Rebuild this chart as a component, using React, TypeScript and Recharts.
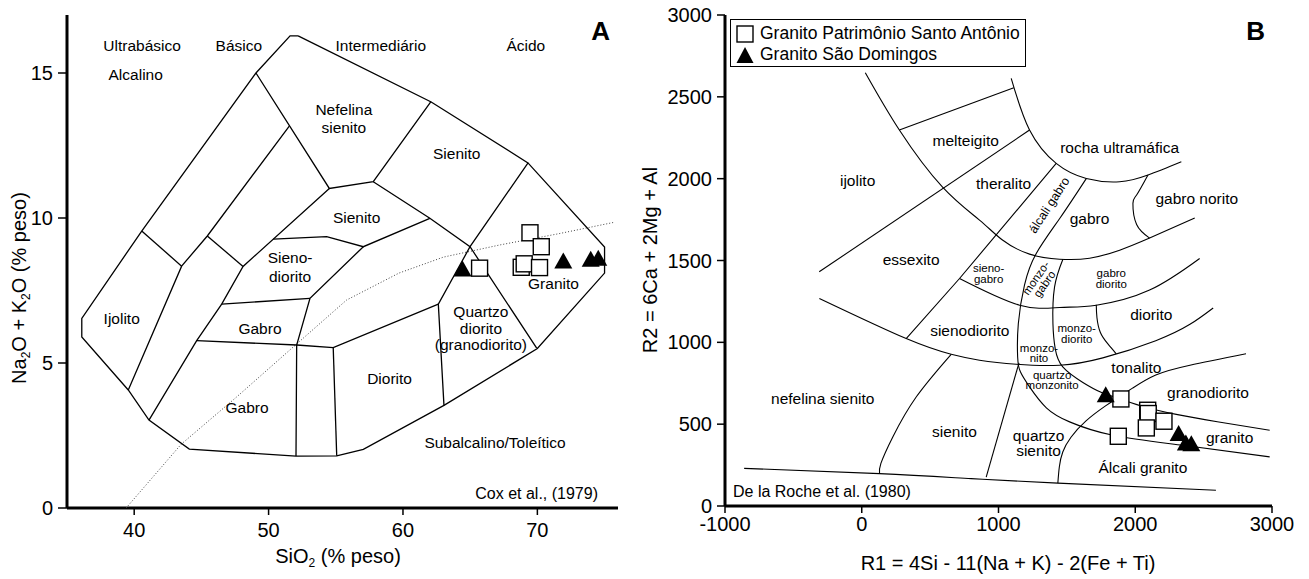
import React from 'react';
import { ScatterChart, Scatter, XAxis, YAxis, Legend } from 'recharts';

type XY = [number, number];
type FieldLabel = { text: string; x: number; y: number };

const FONT = '"Liberation Sans", Arial, Helvetica, sans-serif';

// ---------- Painel A: TAS plutônico (Cox et al., 1979) ----------
const tasXTicks = [40, 50, 60, 70];
const tasYTicks = [0, 5, 10, 15];

const tasOutline: XY[] = [
  [52.2, 16.28], [62.1, 14.0], [69.3, 11.9], [75.0, 9.0], [75.0, 8.1], [70.0, 5.5],
  [63.05, 3.54], [57.05, 2.02], [55.07, 1.8], [52.04, 1.79], [44.1, 2.03], [41.1, 3.03],
  [39.56, 4.07], [36.1, 5.9], [36.1, 6.54], [40.56, 9.55], [49.06, 15.0], [51.6, 16.28], [52.2, 16.28],
];
const tasNefelinaBase: XY[] = [[49.06, 15.0], [54.52, 11.02], [57.79, 11.25], [62.08, 14.01]];
const tasIjolitoEast: XY[] = [[51.54, 13.17], [45.44, 9.38], [43.53, 8.34], [39.56, 4.07]];
const tasIjolitoTop: XY[] = [[40.56, 9.55], [43.53, 8.34]];
const tasMidLink: XY[] = [[45.44, 9.38], [48.1, 8.33]];
const tasGabroWest: XY[] = [[54.52, 11.02], [48.1, 8.33], [46.51, 7.03], [44.65, 5.77], [41.1, 3.03]];
const tasSienitoBase: XY[] = [[50.35, 9.27], [54.32, 9.36], [57.05, 9.01], [62.0, 9.99]];
const tasSienitoEast: XY[] = [[57.79, 11.25], [62.0, 9.99], [64.99, 9.01], [69.95, 5.51]];
const tasQuartzoWest: XY[] = [[69.32, 11.91], [64.99, 9.01], [62.63, 7.03], [63.05, 3.54]];
const tasSienoEast: XY[] = [[57.05, 9.01], [53.08, 7.23], [52.09, 5.62], [52.04, 1.79]];
const tasSienoBase: XY[] = [[46.51, 7.03], [53.08, 7.23]];
const tasGabroTop: XY[] = [[44.65, 5.77], [52.09, 5.62], [54.81, 5.53], [62.63, 7.03]];
const tasDioritoWest: XY[] = [[54.81, 5.53], [55.07, 1.8]];
const tasAlkalineDivide: XY[] = [
  [39.4, 0], [43.5, 2.2], [47.7, 3.86], [52.0, 5.62], [55.8, 7.17], [59.7, 8.1],
  [63.0, 8.65], [67.2, 9.07], [71.5, 9.45], [75.7, 9.85],
];

const tasPatrimonio: XY[] = [[69.45, 9.49], [70.29, 9.01], [68.8, 8.3], [69.02, 8.42], [70.16, 8.29], [65.7, 8.27]];
const tasSaoDomingos: XY[] = [[64.43, 8.24], [71.93, 8.52], [73.97, 8.58], [74.53, 8.61]];

const tasLabels: FieldLabel[] = [
  { text: 'Ultrabásico', x: 40.59, y: 15.97 },
  { text: 'Básico', x: 47.79, y: 15.97 },
  { text: 'Intermediário', x: 58.35, y: 15.97 },
  { text: 'Ácido', x: 69.14, y: 15.97 },
  { text: 'Alcalino', x: 40.11, y: 14.97 },
  { text: 'Nefelina\nsienito', x: 55.6, y: 13.45 },
  { text: 'Sienito', x: 64.0, y: 12.23 },
  { text: 'Sienito', x: 56.55, y: 10.05 },
  { text: 'Sieno-\ndiorito', x: 51.6, y: 8.33 },
  { text: 'Gabro', x: 49.36, y: 6.2 },
  { text: 'Gabro', x: 48.4, y: 3.49 },
  { text: 'Ijolito', x: 39.07, y: 6.54 },
  { text: 'Granito', x: 71.2, y: 7.77 },
  { text: 'Diorito', x: 59.0, y: 4.47 },
  { text: 'Subalcalino/Toleítico', x: 66.85, y: 2.29 },
];
const tasQuartzoLabel: FieldLabel[] = [{ text: 'Quartzo\ndiorito\n(granodiorito)', x: 65.8, y: 6.22 }];

// ---------- Painel B: R1-R2 (De la Roche et al., 1980) ----------
const rocheXTicks = [-1000, 0, 1000, 2000, 3000];
const rocheYTicks = [0, 500, 1000, 1500, 2000, 2500, 3000];

const rocheUltramafic: XY[] = [
  [26, 2647], [275, 2297], [591, 1948], [861, 1747], [1029, 1625], [1227, 1539],
  [1447, 1508], [1666, 1514], [1886, 1563], [2105, 1637], [2435, 1759],
];
const rocheMelteigitoTop: XY[] = [[275, 2297], [1112, 2555]];
const rocheUltramaficEast: XY[] = [
  [1093, 2613], [1227, 2297], [1422, 2093], [1642, 2001], [1886, 1981], [2093, 2022], [2337, 2103],
];
const rocheTheralitoTop: XY[] = [[-311, 1431], [1227, 2297]];
const rocheEssexitoEast: XY[] = [[1422, 2093], [715, 1390], [325, 1023]];
const rocheGabroDioritoTop: XY[] = [[715, 1390], [1154, 1227], [1447, 1213], [1715, 1227], [2105, 1319], [2471, 1512]];
const rocheSienodioritoBase: XY[] = [
  [-310, 1268], [325, 1023], [654, 927], [861, 891], [1130, 866], [1447, 860],
  [1763, 905], [2150, 1010], [2400, 1110], [2570, 1210],
];
const rocheMonzoWest: XY[] = [
  [1642, 2001], [1450, 1760], [1276, 1543], [1190, 1350], [1145, 1115], [1140, 911],
  [1160, 820], [1227, 728], [1350, 600], [1520, 514], [1837, 432], [2349, 371], [2983, 300],
];
const rocheSienitoEast: XY[] = [[1150, 875], [910, 177]];
const rocheMonzoEast: XY[] = [
  [1471, 1508], [1410, 1339], [1398, 1115], [1415, 960], [1470, 850], [1617, 755], [1750, 695], [1871, 660],
];
const rocheAlcaliGranitoWest: XY[] = [[1871, 660], [1780, 610], [1640, 520], [1530, 420], [1470, 330], [1445, 240], [1434, 140]];
const rocheGranitoTop: XY[] = [[1871, 660], [2050, 610], [2300, 560], [2600, 515], [2983, 463]];
const rocheTonalitoBase: XY[] = [[1890, 672], [1980, 720], [2150, 800], [2400, 860], [2810, 930]];
const rocheDioritoWest: XY[] = [[1715, 1230], [1720, 1150], [1745, 1060], [1800, 990], [1861, 930]];
const rocheNoritoWest: XY[] = [[2093, 2022], [2010, 1900], [1983, 1849], [2010, 1720], [2105, 1637]];
const rocheBase: XY[] = [[-860, 230], [130, 198], [800, 167], [1434, 140], [2590, 96]];
const rocheNefelinaEast: XY[] = [[130, 198], [140, 260], [227, 422], [398, 666], [654, 927]];

const rochePatrimonio: XY[] = [[1895, 654], [2091, 585], [2095, 565], [2210, 518], [2081, 477], [1876, 426]];
const rocheSaoDomingos: XY[] = [[1784, 680], [2317, 443], [2370, 385], [2410, 381]];

const rocheLabels: FieldLabel[] = [
  { text: 'ijolito', x: -30, y: 1990 },
  { text: 'melteigito', x: 760, y: 2236 },
  { text: 'theralito', x: 1037, y: 1971 },
  { text: 'rocha ultramáfica', x: 1886, y: 2195 },
  { text: 'gabro norito', x: 2450, y: 1879 },
  { text: 'gabro', x: 1666, y: 1757 },
  { text: 'essexito', x: 361, y: 1512 },
  { text: 'sienodiorito', x: 790, y: 1074 },
  { text: 'diorito', x: 2117, y: 1176 },
  { text: 'tonalito', x: 2008, y: 850 },
  { text: 'granodiorito', x: 2532, y: 697 },
  { text: 'granito', x: 2690, y: 422 },
  { text: 'Álcali granito', x: 2056, y: 238 },
  { text: 'sienito', x: 678, y: 460 },
  { text: 'nefelina sienito', x: -285, y: 657 },
];
const rocheQuartzoSienito: FieldLabel[] = [{ text: 'quartzo\nsienito', x: 1293, y: 387 }];
const rocheSmallLabels: FieldLabel[] = [
  { text: 'sieno-\ngabro', x: 928, y: 1420 },
  { text: 'gabro\ndiorito', x: 1825, y: 1390 },
  { text: 'monzo-\ndiorito', x: 1572, y: 1054 },
  { text: 'monzo-\nnito', x: 1296, y: 934 },
  { text: 'quartzo\nmonzonito', x: 1392, y: 770 },
];
const rocheAlcaliGabro: FieldLabel[] = [{ text: 'álcali gabro', x: 1372, y: 1838 }];
const rocheMonzoGabro: FieldLabel[] = [{ text: 'monzo-\ngabro', x: 1305, y: 1375 }];

const seriesPatrimonio = 'Granito Patrimônio Santo Antônio';
const seriesSaoDomingos = 'Granito São Domingos';

const toPts = (arr: XY[]) => arr.map(([x, y]) => ({ x, y }));

const noPoint = () => <g />;

const squareShape = (props: any) => (
  <rect x={props.cx - 8} y={props.cy - 8} width={16} height={16} fill="#fff" stroke="#000" strokeWidth={1.4} />
);

const triangleShape = (props: any) => {
  const { cx, cy } = props;
  return <path d={`M${cx},${cy - 8.5}L${cx + 9},${cy + 7.5}L${cx - 9},${cy + 7.5}Z`} fill="#000" />;
};

const textShape = (size: number, lead: number, angle = 0) => (props: any) => {
  const { cx, cy, payload } = props;
  const lines = String(payload.text).split('\n');
  const top = cy - ((lines.length - 1) * lead) / 2;
  return (
    <text
      transform={angle ? `rotate(${angle} ${cx} ${cy})` : undefined}
      fontFamily={FONT}
      fontSize={size}
      fill="#000"
      textAnchor="middle"
      dominantBaseline="central"
    >
      {lines.map((l, i) => (
        <tspan key={i} x={cx} y={top + i * lead}>
          {l}
        </tspan>
      ))}
    </text>
  );
};

function boundary(seg: XY[], key: string, curve: 'linear' | 'natural', width = 1.2, dash?: string) {
  return (
    <Scatter
      key={key}
      data={toPts(seg)}
      line={{ stroke: dash ? '#444' : '#000', strokeWidth: width, strokeDasharray: dash }}
      lineJointType={curve}
      shape={noPoint}
      legendType="none"
      isAnimationActive={false}
    />
  );
}

const tickStyle = { fill: '#000', fontSize: 20, fontFamily: FONT };
const axisLine = { stroke: '#000', strokeWidth: 3 };
const tickLine = { stroke: '#000', strokeWidth: 1.5 };

const renderLegend = () => (
  <div
    style={{
      border: '1.5px solid #000',
      background: '#fff',
      boxSizing: 'border-box',
      width: 296,
      height: 48,
      padding: '3px 0 0 5px',
      fontFamily: FONT,
      fontSize: 17.5,
      lineHeight: '21px',
      color: '#000',
      textAlign: 'left',
      whiteSpace: 'nowrap',
    }}
  >
    <div style={{ display: 'flex', alignItems: 'center', height: 21 }}>
      <svg width={18} height={18}>
        <rect x={1} y={1} width={16} height={16} fill="#fff" stroke="#000" strokeWidth={1.4} />
      </svg>
      <span style={{ marginLeft: 6 }}>{seriesPatrimonio}</span>
    </div>
    <div style={{ display: 'flex', alignItems: 'center', height: 21 }}>
      <svg width={18} height={18}>
        <path d="M9,1L17.5,17L0.5,17Z" fill="#000" />
      </svg>
      <span style={{ marginLeft: 6 }}>{seriesSaoDomingos}</span>
    </div>
  </div>
);

function TasPanel() {
  const lines = [
    tasOutline, tasNefelinaBase, tasIjolitoEast, tasIjolitoTop, tasMidLink, tasGabroWest,
    tasSienitoBase, tasSienitoEast, tasQuartzoWest, tasSienoEast, tasSienoBase, tasGabroTop, tasDioritoWest,
  ];
  return (
    <ScatterChart width={640} height={579} margin={{ top: 15, right: 22, bottom: 41, left: 17 }}>
      <XAxis type="number" dataKey="x" domain={[35, 76]} ticks={tasXTicks} height={30} tick={tickStyle}
        tickSize={7} tickMargin={8} axisLine={axisLine} tickLine={tickLine} />
      <YAxis type="number" dataKey="y" domain={[0, 17]} ticks={tasYTicks} width={50} tick={tickStyle}
        tickSize={9} tickMargin={5} axisLine={axisLine} tickLine={tickLine} />
      <XAxis xAxisId="top" orientation="top" type="number" domain={[35, 76]} height={0} tick={false}
        tickLine={false} axisLine={axisLine} />
      <YAxis yAxisId="right" orientation="right" type="number" domain={[0, 17]} width={0} tick={false}
        tickLine={false} axisLine={axisLine} />
      {boundary(tasAlkalineDivide, 'alk', 'linear', 1, '1 2')}
      {lines.map((seg, i) => boundary(seg, `a${i}`, 'linear', 1.3))}
      <Scatter data={toPts(tasPatrimonio)} name={seriesPatrimonio} shape={squareShape} isAnimationActive={false} />
      <Scatter data={toPts(tasSaoDomingos)} name={seriesSaoDomingos} shape={triangleShape} isAnimationActive={false} />
      <Scatter data={tasLabels} shape={textShape(15.5, 18.5)} legendType="none" isAnimationActive={false} />
      <Scatter data={tasQuartzoLabel} shape={textShape(15.5, 16.6)} legendType="none" isAnimationActive={false} />
    </ScatterChart>
  );
}

function RochePanel() {
  const curves = [
    rocheUltramafic, rocheUltramaficEast, rocheGabroDioritoTop, rocheSienodioritoBase, rocheMonzoWest,
    rocheMonzoEast, rocheAlcaliGranitoWest, rocheGranitoTop, rocheTonalitoBase, rocheDioritoWest,
    rocheNoritoWest, rocheBase, rocheNefelinaEast,
  ];
  const straight = [rocheMelteigitoTop, rocheTheralitoTop, rocheEssexitoEast, rocheSienitoEast];
  return (
    <ScatterChart width={669} height={579} margin={{ top: 15, right: 37, bottom: 33, left: 25 }}>
      <XAxis type="number" dataKey="x" domain={[-1000, 3000]} ticks={rocheXTicks} height={40} tick={tickStyle}
        tickSize={7} tickMargin={4} axisLine={axisLine} tickLine={tickLine} />
      <YAxis type="number" dataKey="y" domain={[0, 3000]} ticks={rocheYTicks} width={60} tick={tickStyle}
        tickSize={8} tickMargin={5} axisLine={axisLine} tickLine={tickLine} />
      <XAxis xAxisId="top" orientation="top" type="number" domain={[-1000, 3000]} height={0} tick={false}
        tickLine={false} axisLine={axisLine} />
      <YAxis yAxisId="right" orientation="right" type="number" domain={[0, 3000]} width={0} tick={false}
        tickLine={false} axisLine={axisLine} />
      {curves.map((seg, i) => boundary(seg, `c${i}`, 'natural', 1.1))}
      {straight.map((seg, i) => boundary(seg, `s${i}`, 'linear', 1.1))}
      <Scatter data={toPts(rochePatrimonio)} name={seriesPatrimonio} shape={squareShape} isAnimationActive={false} />
      <Scatter data={toPts(rocheSaoDomingos)} name={seriesSaoDomingos} shape={triangleShape} isAnimationActive={false} />
      <Scatter data={rocheLabels} shape={textShape(15.5, 16)} legendType="none" isAnimationActive={false} />
      <Scatter data={rocheQuartzoSienito} shape={textShape(15.5, 15)} legendType="none" isAnimationActive={false} />
      <Scatter data={rocheSmallLabels} shape={textShape(11.5, 10.5)} legendType="none" isAnimationActive={false} />
      <Scatter data={rocheAlcaliGabro} shape={textShape(12.5, 11, -57)} legendType="none" isAnimationActive={false} />
      <Scatter data={rocheMonzoGabro} shape={textShape(11.5, 10.5, -55)} legendType="none" isAnimationActive={false} />
      <Legend layout="vertical" align="center" verticalAlign="middle" content={renderLegend}
        wrapperStyle={{ left: 90, top: 19, width: 296 }} />
    </ScatterChart>
  );
}

export default function App() {
  return (
    <div style={{ position: 'absolute', left: 0, top: 0, width: 1309, height: 579, background: '#fff', fontFamily: FONT }}>
      <div style={{ position: 'absolute', left: 0, top: 0 }}>
        <TasPanel />
      </div>
      <div style={{ position: 'absolute', left: 640, top: 0 }}>
        <RochePanel />
      </div>
      <svg width={1309} height={579} style={{ position: 'absolute', left: 0, top: 0, pointerEvents: 'none' }}
        fontFamily={FONT} fill="#000">
        <text x={338} y={563} fontSize={20} textAnchor="middle">
          SiO<tspan fontSize={12} dy={4}>2</tspan>
          <tspan dy={-4}> (% peso)</tspan>
        </text>
        <text transform="rotate(-90 26 288)" x={26} y={288} fontSize={20} textAnchor="middle">
          Na<tspan fontSize={12} dy={4}>2</tspan>
          <tspan dy={-4}>O + K</tspan>
          <tspan fontSize={12} dy={4}>2</tspan>
          <tspan dy={-4}>O (% peso)</tspan>
        </text>
        <text x={1008} y={570} fontSize={20} textAnchor="middle">R1 = 4Si - 11(Na + K) - 2(Fe + Ti)</text>
        <text transform="rotate(-90 657 260)" x={657} y={260} fontSize={20} textAnchor="middle">
          R2 = 6Ca + 2Mg + Al
        </text>
        <text x={610} y={40} fontSize={26} fontWeight="bold" textAnchor="end">A</text>
        <text x={1265} y={40} fontSize={26} fontWeight="bold" textAnchor="end">B</text>
        <text x={598} y={499} fontSize={16} textAnchor="end">Cox et al., (1979)</text>
        <text x={733} y={497} fontSize={16}>De la Roche et al. (1980)</text>
      </svg>
    </div>
  );
}
